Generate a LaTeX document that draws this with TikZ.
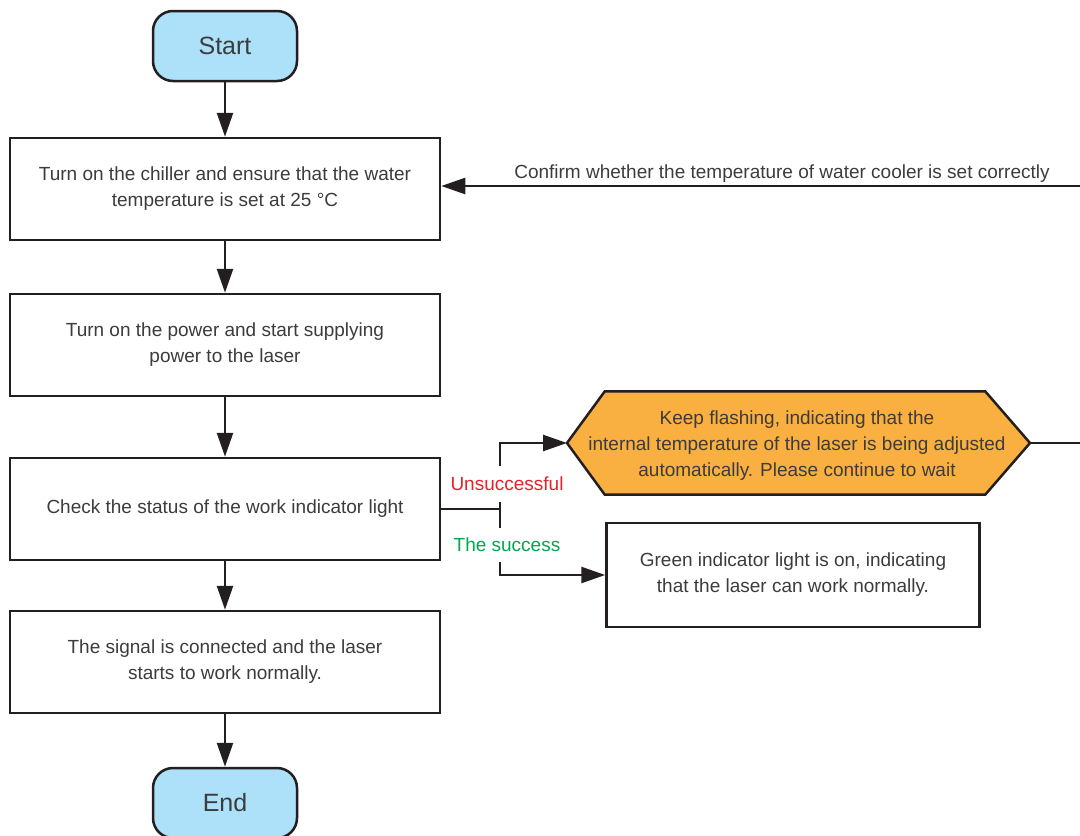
\documentclass[tikz,border=0pt]{standalone}
\usepackage{fontspec}
\setmainfont{Liberation Sans}
\usetikzlibrary{arrows.meta}
\definecolor{txtgray}{HTML}{3C3C3C}
\definecolor{edgeblack}{HTML}{231F20}
\definecolor{termblue}{HTML}{ADE0F9}
\definecolor{waitorange}{HTML}{F9B040}
\definecolor{failred}{HTML}{E8202A}
\definecolor{okgreen}{HTML}{00A651}

\begin{document}
\begin{tikzpicture}[x=1pt,y=-1pt,
  font=\fontsize{19}{26}\selectfont, text=txtgray,
  box/.style={draw=edgeblack, line width=2.5pt, fill=white, minimum width=430pt, minimum height=102pt, align=center},
  term/.style={draw=edgeblack, line width=2.5pt, fill=termblue, rounded corners=20pt, minimum width=144pt, minimum height=70pt, font=\fontsize{25}{30}\selectfont},
  flow/.style={draw=edgeblack, line width=2.5pt, -{Triangle[length=24pt,width=16pt]}},
  plain/.style={draw=edgeblack, line width=2.5pt},
  branch/.style={fill=white, inner sep=0pt}]
\useasboundingbox (0,0) rectangle (1080,836);
\node[term] (START) at (225,46) {Start};
\node[box] (CHILLER) at (225,189) {Turn on the chiller and ensure that the water\\temperature is set at 25 °C};
\node[box] (POWER) at (225,345) {Turn on the power and start supplying\\power to the laser};
\node[box] (CHECK) at (225,509) {Check the status of the work indicator light};
\node[box] (WORK) at (225,662) {The signal is connected and the laser\\ starts to work normally.};
\node[term] (END) at (225,803) {End};
% waiting state (hexagon drawn round the node)
\node[align=center, minimum width=380pt, minimum height=103pt, inner sep=0pt] (WAIT) at (795,443) {};
\coordinate (WAITL) at (567,443);
\coordinate (WAITR) at (1030,443);
\filldraw[draw=edgeblack, line width=2.5pt, fill=waitorange, line join=miter]
  (WAITL) -- (WAIT.north west) -- (WAIT.north east) -- (WAITR) -- (WAIT.south east) -- (WAIT.south west) -- cycle;
\node[align=center] at (797,446) {Keep flashing, indicating that the\\internal temperature of the laser is being adjusted\\automatically. Please continue to wait};
\node[box, minimum width=373pt, minimum height=104pt] (GREEN) at (793,575) {Green indicator light is on, indicating\\ that the laser can work normally.};
\node (CONFIRM) at (782,174) {Confirm whether the temperature of water cooler is set correctly};
\coordinate (SPLIT) at (500,509);
\draw [flow] (START) to (CHILLER);
\draw [flow] (CHILLER) to (POWER);
\draw [flow] (POWER) to (CHECK);
\draw [flow] (CHECK) to (WORK);
\draw [flow] (WORK) to (END);
\draw [plain] (CHECK.east) -- (SPLIT);
\draw [flow] (SPLIT) |- (WAITL);
\draw [flow] (SPLIT) |- (GREEN.west);
\draw [flow] (WAITR) -- ++(60,0) |- ([yshift=3pt]CHILLER.east);
\node[branch, text=failred, minimum height=36pt] (FAIL) at (507,484) {Unsuccessful};
\node[branch, text=okgreen, minimum height=34pt] (OK) at (507,545) {The success};
\end{tikzpicture}
\end{document}
